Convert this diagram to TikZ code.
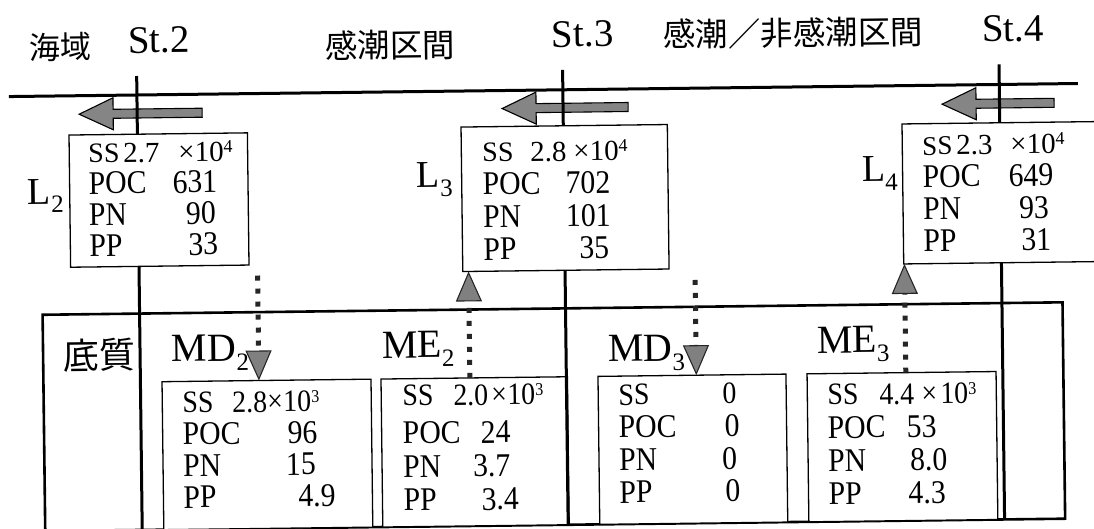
\documentclass[tikz,border=0pt]{standalone}
\usepackage{fontspec}
\setmainfont{Liberation Serif}
\newfontfamily\cf{Liberation Serif}[FakeStretch=0.9]
\newfontfamily\cjk{Noto Sans CJK JP}
\usetikzlibrary{arrows.meta}
\newcommand\at[2]{\makebox[0pt][l]{\hspace*{#1pt}#2}}
\newcommand\lsub[1]{\raisebox{-9pt}{\fontsize{25}{25}\selectfont #1}}
\newcommand\sups[1]{\raisebox{9pt}{\fontsize{18}{18}\selectfont #1}}
\newcommand\tbl[2]{\cf\fontsize{33}{#1}\selectfont\begin{tabular}[t]{@{}l@{}}#2\end{tabular}}
\newcommand\ssa[2]{{\rmfamily\fontsize{#1}{#1}\selectfont #2}}
\newcommand\numa[1]{{\rmfamily\fontsize{29}{29}\selectfont #1}}
\newcommand\rowb[1]{{\fontsize{31}{31}\selectfont #1}}
\newcommand\bigarrow[3]{%
  \filldraw[bigarr] (#1,-#3) -- ++(34,16) -- ++(0,-11.5) -- ({#2},{-#3+4.5})
    -- ({#2},{-#3-4.5}) -- ({#1+34},{-#3-4.5}) -- ++(0,-11.5) -- cycle;}
\begin{document}
\begin{tikzpicture}[x=1pt,y=1pt,
  lab/.style={inner sep=0pt, outer sep=0pt, font=\fontsize{39}{39}\selectfont, anchor=base west},
  llab/.style={inner sep=0pt, outer sep=0pt, font=\fontsize{38}{38}\selectfont, anchor=base west},
  mlab/.style={inner sep=0pt, outer sep=0pt, font=\fontsize{40}{40}\selectfont, anchor=base west},
  hdr/.style={inner sep=0pt, outer sep=0pt, font=\cjk\fontsize{32.5}{32.5}\selectfont},
  databox/.style={draw, fill=white, line width=1.3pt, inner sep=0pt, outer sep=0pt, anchor=north west},
  frame/.style={draw, line width=2.6pt, inner sep=0pt, outer sep=0pt, anchor=north west},
  dtext/.style={inner sep=0pt, outer sep=0pt, anchor=base west},
  rule/.style={line width=3pt},
  bigarr/.style={draw=black, line width=1.1pt, fill=black!48},
  flux/.style={line width=5pt, black!85, dash pattern=on 5pt off 8pt,
    -{Triangle[length=30pt,width=26pt,line width=1.1pt,fill=black!50]}}
]
\useasboundingbox (0,0) rectangle (1094,-528);
\clip (0,0) rectangle (1094,-528);
\fill[white] (0,0) rectangle (1094,-528);
\begin{scope}[rotate around={0.7:(547,-264)}, transform shape]
  % horizontal flow arrows
  \bigarrow{81}{204}{108.5}
  \bigarrow{504}{630}{108}
  \bigarrow{944}{1056}{109}
  % surface line
  \coordinate (topL) at (11,-90);
  \coordinate (topR) at (1080,-90);
  \draw[rule] (topL) -- (topR);
  % sediment frame
  \node[frame, minimum width=1020pt, minimum height=216.4pt] (sed) at (42,-308.6) {};
  % data boxes
  \node[databox, minimum width=178.4pt, minimum height=132.2pt] (L2box) at (70.6,-129.2) {};
  \node[databox, minimum width=206.3pt, minimum height=144.5pt] (L3box) at (462.7,-126) {};
  \node[databox, minimum width=250pt, minimum height=140pt] (L4box) at (903.7,-128.3) {};
  \node[databox, minimum width=209pt, minimum height=148pt] (MD2box) at (160.6,-377) {};
  \node[databox, minimum width=186.4pt, minimum height=148pt] (ME2box) at (379.6,-377) {};
  \node[databox, minimum width=188pt, minimum height=148pt] (MD3box) at (596.6,-377) {};
  \node[databox, minimum width=189pt, minimum height=148pt] (ME3box) at (805.7,-377) {};
  % data texts
  \node[dtext] (L2txt) at (89.2,-157.4) {\tbl{30.7}{%
    \at{0}{\ssa{28}{SS}}\at{35}{\numa{2.7}}\at{90}{\numa{×10\sups{4}}}\\
    \at{0}{POC}\at{84}{631}\\
    \at{0}{PN}\at{97}{90}\\
    \at{0}{PP}\at{99}{33}}};
  \node[dtext] (L3txt) at (483.2,-161.2) {\tbl{32.7}{%
    \at{0}{\ssa{28}{SS}}\at{48}{\numa{2.8}}\at{91}{\numa{×10\sups{4}}}\\
    \at{0}{POC}\at{83}{702}\\
    \at{0}{PN}\at{83}{101}\\
    \at{0}{PP}\at{96}{35}}};
  \node[dtext] (L4txt) at (923.3,-159.6) {\tbl{32.3}{%
    \at{0}{\ssa{27}{SS}}\at{34}{\numa{2.3}}\at{88}{\numa{×10\sups{4}}}\\
    \at{0}{POC}\at{86}{649}\\
    \at{0}{PN}\at{96}{93}\\
    \at{0}{PP}\at{98}{31}}};
  \node[dtext] (MD2txt) at (180.2,-408.5) {\tbl{31.7}{%
    \rowb{\at{0}{SS}\at{50}{2.8}\at{85}{×}\at{101}{10\sups{3}}}\\
    \at{0}{POC}\at{105}{96}\\
    \at{0}{PN}\at{103}{15}\\
    \at{0}{PP}\at{115}{4.9}}};
  \node[dtext] (ME2txt) at (400.3,-404.2) {\tbl{33.5}{%
    \rowb{\at{0}{SS}\at{51}{2.0}\at{89}{×}\at{105}{10\sups{3}}}\\[4.5pt]
    \at{0}{POC}\at{78}{24}\\
    \at{0}{PN}\at{70}{3.7}\\
    \at{0}{PP}\at{78}{3.4}}};
  \node[dtext] (MD3txt) at (616.3,-405.9) {\tbl{32.7}{%
    \rowb{\at{0}{SS}\at{104}{0}}\\
    \at{0}{POC}\at{106}{0}\\
    \at{0}{PN}\at{103}{0}\\
    \at{0}{PP}\at{106}{0}}};
  \node[dtext] (ME3txt) at (825.3,-408.4) {\tbl{33.3}{%
    \rowb{\at{0}{SS}\at{52}{4.4}\at{94}{×}\at{113}{10\sups{3}}}\\
    \at{0}{POC}\at{79}{53}\\
    \at{0}{PN}\at{82}{8.0}\\
    \at{0}{PP}\at{80}{4.3}}};
  % station lines
  \coordinate (st2top) at (139,-71);
  \coordinate (st3top) at (565,-70);
  \coordinate (st4top) at (1001.5,-70);
  \draw[rule] (st2top) -- (st2top |- L2box.north);
  \draw[rule] (st2top |- L2box.south) -- (st2top |- sed.south);
  \draw[rule] (st3top) -- (st3top |- L3box.north);
  \draw[rule] (st3top |- L3box.south) -- (st3top |- sed.south);
  \draw[rule] (st4top) -- (st4top |- L4box.north);
  \draw[rule] (st4top |- L4box.south) -- (st4top |- sed.south);
  % vertical fluxes
  \coordinate (md2s) at (257.5,-272);
  \coordinate (me2s) at (468.5,-377);
  \coordinate (md3s) at (695,-281.8);
  \coordinate (me3s) at (904.5,-377);
  \draw[flux] (md2s) -- (md2s |- MD2box.north);
  \draw[flux] (me2s) -- (me2s |- L3box.south);
  \draw[flux] (md3s) -- (md3s |- MD3box.north);
  \draw[flux] (me3s) -- (me3s |- L4box.south);
  % header labels
  \node[hdr, font=\cjk\fontsize{31}{31}\selectfont] (sea) at (62.6,-41) {海域};
  \node[lab] (st2) at (130.6,-47.9) {St.2};
  \node[hdr] (tidal) at (392.7,-43.1) {感潮区間};
  \node[lab] (st3) at (554.6,-47.1) {St.3};
  \node[hdr] (tidal2) at (795.8,-36) {感潮／非感潮区間};
  \node[lab] (st4) at (984.7,-47.3) {St.4};
  \node[hdr, font=\cjk\fontsize{36}{36}\selectfont] (sedlab) at (97.9,-349.6) {底質};
  % flux labels
  \node[llab] (L2) at (28.7,-197.7) {L\lsub{2}};
  \node[llab] (L3) at (417.9,-186.4) {L\lsub{3}};
  \node[llab] (L4) at (863,-185.8) {L\lsub{4}};
  \node[mlab] (MD2) at (170.8,-357.4) {MD\lsub{2}};
  \node[mlab] (ME2) at (380.9,-356) {ME\lsub{2}};
  \node[mlab] (MD3) at (606.8,-362.7) {MD\lsub{3}};
  \node[mlab] (ME3) at (816,-356.3) {ME\lsub{3}};
\end{scope}
\end{tikzpicture}
\end{document}
